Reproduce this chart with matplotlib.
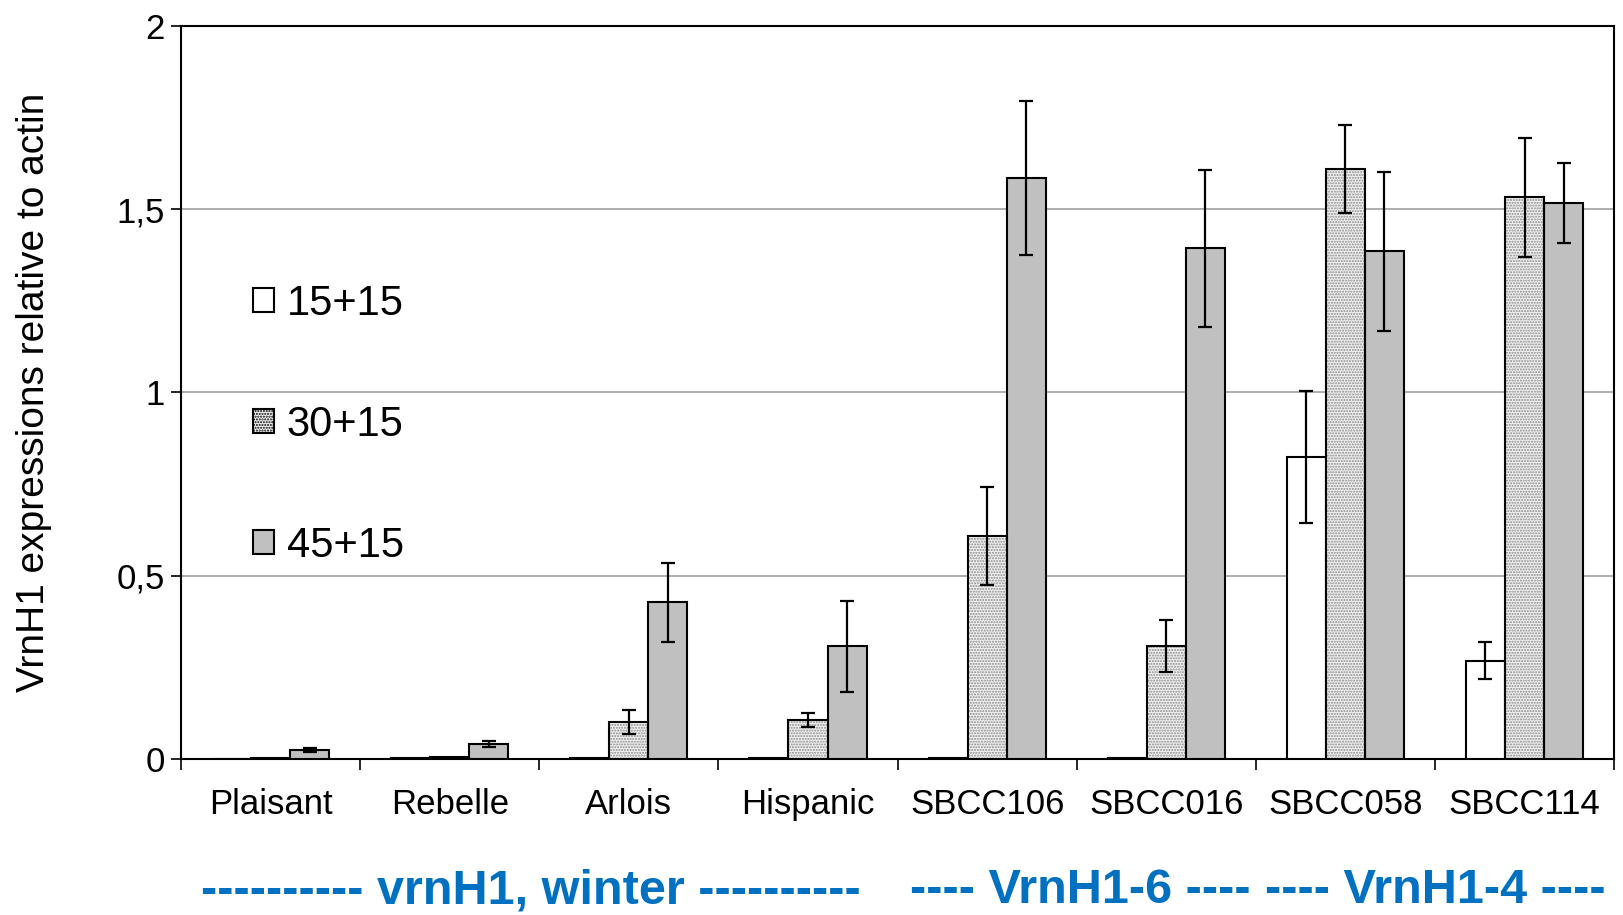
import numpy as np
import matplotlib
matplotlib.use("Agg")
import matplotlib.pyplot as plt
from matplotlib.patches import Patch

plt.rcParams['font.family'] = ['Liberation Sans', 'DejaVu Sans']
plt.rcParams['hatch.linewidth'] = 1.0

lines = ["Plaisant", "Rebelle", "Arlois", "Hispanic", "SBCC106", "SBCC016", "SBCC058", "SBCC114"]
labels = ["15+15", "30+15", "45+15"]

# means
v15 = [0.0, 0.003, 0.002, 0.002, 0.002, 0.002, 0.823, 0.268]
v30 = [0.003, 0.005, 0.100, 0.107, 0.609, 0.307, 1.609, 1.533]
v45 = [0.024, 0.041, 0.427, 0.308, 1.584, 1.393, 1.385, 1.518]
# error bars
e15 = [0.0, 0.0, 0.0, 0.0, 0.0, 0.0, 0.180, 0.050]
e30 = [0.0, 0.0, 0.033, 0.019, 0.133, 0.071, 0.120, 0.162]
e45 = [0.006, 0.009, 0.109, 0.124, 0.210, 0.215, 0.216, 0.109]

groups = ["---------- vrnH1, winter ----------", "---- VrnH1-6 ----", "---- VrnH1-4 ----"]
group_x = [0.327, 0.665, 0.884]

fig = plt.figure(figsize=(16.24, 9.15), dpi=100)
ax = fig.add_axes([0.1115, 0.1705, 0.8824, 0.8011])

x = np.arange(len(lines))
w = 0.218
ekw = dict(ecolor='black', elinewidth=1.6, capsize=5, capthick=1.6)

# 15+15 white
ax.bar(x - w, v15, w, color='white', edgecolor='black', linewidth=1.5, zorder=3)
# 30+15 stippled: hatch layer then outline
ax.bar(x, v30, w, color='#f2f2f2', edgecolor='#8a8a8a', hatch='......', linewidth=0, zorder=3)
ax.bar(x, v30, w, fill=False, edgecolor='black', linewidth=1.5, zorder=4)
# 45+15 gray
ax.bar(x + w, v45, w, color='#c0c0c0', edgecolor='black', linewidth=1.5, zorder=3)

for off, v, e in [(-w, v15, e15), (0, v30, e30), (w, v45, e45)]:
    xs = [xi + off for xi, ei in zip(x, e) if ei > 0]
    vs = [vi for vi, ei in zip(v, e) if ei > 0]
    es = [ei for ei in e if ei > 0]
    ax.errorbar(xs, vs, yerr=es, fmt='none', zorder=5, **ekw)

ax.set_xlim(-0.5, len(lines) - 0.5)
ax.set_ylim(0, 2)
ax.set_yticks([0, 0.5, 1, 1.5, 2])
ax.set_yticklabels(["0", "0,5", "1", "1,5", "2"], fontsize=25)
ax.yaxis.grid(True, color='#a0a0a0', linewidth=1.2, zorder=0)
ax.set_axisbelow(True)

ax.set_xticks(x)
ax.set_xticklabels(lines, fontsize=25)
ax.tick_params(axis='x', length=0, pad=21)
ax.set_xticks(np.arange(len(lines) + 1) - 0.5, minor=True)
ax.tick_params(axis='x', which='minor', length=8, width=1.2, direction='out')
ax.tick_params(axis='y', length=7.5, width=1.2, direction='out', pad=4)
for s in ax.spines.values():
    s.set_linewidth(1.5)

ax.set_ylabel("VrnH1 expressions relative to actin", fontsize=28)
ax.yaxis.set_label_coords(-0.09, 0.5)

handles = [Patch(facecolor='white', edgecolor='black', linewidth=1.5),
           Patch(facecolor='#f2f2f2', edgecolor='black', hatch='......', linewidth=1.5),
           Patch(facecolor='#c0c0c0', edgecolor='black', linewidth=1.5)]
ax.legend(handles, labels, loc='upper left', bbox_to_anchor=(0.156, 0.69), bbox_transform=fig.transFigure,
          frameon=False, fontsize=30, handlelength=0.5, handleheight=0.5, handletextpad=0.3,
          labelspacing=1.95, borderpad=0, borderaxespad=0)

for gx, gt in zip(group_x, groups):
    fig.text(gx, 0.013, gt, ha='center', va='baseline', fontsize=35, fontweight='bold', color='#0070C0')

fig.savefig("out.png", dpi=100)
